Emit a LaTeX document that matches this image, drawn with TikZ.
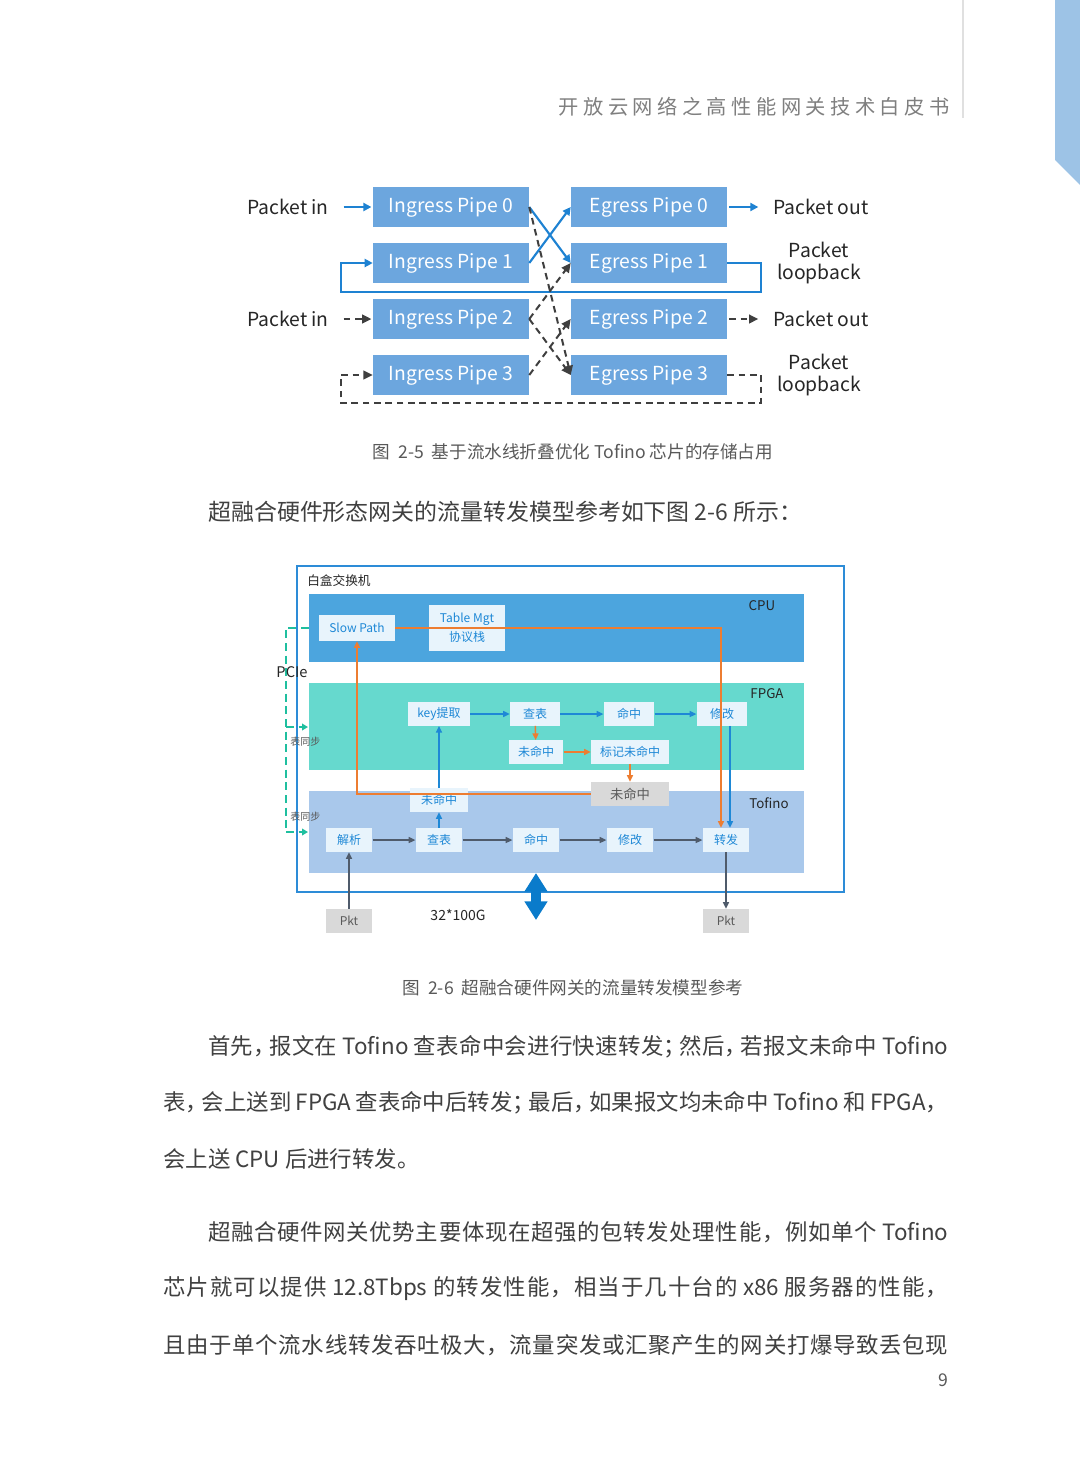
\documentclass[tikz,border=0pt]{standalone}
\usepackage{fontspec}
\setmainfont{Noto Sans CJK SC}
\usetikzlibrary{arrows.meta,positioning}
% stretchable glue between CJK characters, used by the justified lines
\newcount\cjkcode
\cjkcode="4E00
\loop \XeTeXcharclass\cjkcode=1 \advance\cjkcode by 1 \ifnum\cjkcode<"A000 \repeat
\XeTeXcharclass"FF0C=1 \XeTeXcharclass"FF1B=1 \XeTeXcharclass"3002=1 \XeTeXcharclass"FF1A=1
\XeTeXinterchartoks 1 1 = {\hskip 0pt plus 3pt\relax}
\XeTeXinterchartokenstate=1
\newcommand\narrowpunct[1]{\makebox[0.72em][l]{#1}}
\definecolor{pipeblue}{HTML}{6CA6DE}
\definecolor{flowblue}{HTML}{1E82D2}
\definecolor{dashgray}{HTML}{3F3F3F}
\definecolor{labelblack}{HTML}{262626}
\definecolor{hdrgray}{HTML}{7F7F7F}
\definecolor{capgray}{HTML}{595959}
\definecolor{bodygray}{HTML}{404040}
\definecolor{sideblue}{HTML}{9DC3E6}
\definecolor{cpuband}{HTML}{4CA5DE}
\definecolor{fpgaband}{HTML}{66D9CE}
\definecolor{tofband}{HTML}{A9C8EB}
\definecolor{outerblue}{HTML}{2D8CD7}
\definecolor{unitfill}{HTML}{E8F4FC}
\definecolor{unittext}{HTML}{1E88D6}
\definecolor{pathorange}{HTML}{ED7D31}
\definecolor{pcieteal}{HTML}{1FBF9F}
\definecolor{tofarrow}{HTML}{4F5B6B}
\definecolor{busblue}{HTML}{0A7BCB}
\definecolor{pktgray}{HTML}{D9D9D9}
\definecolor{pkttext}{HTML}{595959}
\tikzset{
  pipe/.style={fill=pipeblue,text=white,minimum width=117pt,minimum height=30pt,inner sep=0pt,
    font=\fontsize{14.5}{16}\selectfont},
  lbl/.style={text=labelblack,inner sep=0pt,align=center,font=\fontsize{14.5}{16.5}\selectfont},
  flow blue/.style={draw=flowblue,line width=1.6pt,-{Triangle[length=6pt,width=6pt]}},
  flow dash/.style={draw=dashgray,line width=1.5pt,dash pattern=on 5pt off 3.5pt,
    -{Triangle[length=7pt,width=6.5pt]}},
  unit/.style={fill=unitfill,text=unittext,inner sep=0pt,minimum height=17.5pt,minimum width=35pt,
    font=\fontsize{9}{14}\selectfont},
  pkt/.style={fill=pktgray,text=pkttext,inner sep=0pt,minimum height=18pt,minimum width=35pt,
    font=\fontsize{9}{11}\selectfont},
  chip/.style={text=labelblack,inner sep=0pt,font=\fontsize{10}{12}\selectfont},
  fpga flow/.style={draw=unittext,line width=1.1pt,-{Triangle[length=5pt,width=4.5pt]}},
  miss flow/.style={draw=pathorange,line width=1.1pt,-{Triangle[length=5pt,width=4.5pt]}},
  tof flow/.style={draw=tofarrow,line width=1.1pt,-{Triangle[length=5pt,width=4.5pt]}},
  pcie/.style={draw=pcieteal,line width=1.5pt,dash pattern=on 6pt off 3.5pt},
  sync/.style={text=capgray,inner sep=0pt,font=\fontsize{7.5}{9}\selectfont},
  caption/.style={text=capgray,inner sep=0pt,font=\fontsize{13.2}{15}\selectfont},
  body/.style={text=bodygray,inner sep=0pt,font=\fontsize{16.8}{20}\selectfont}
}
\begin{document}
\begin{tikzpicture}[x=0.75pt,y=-0.75pt]
  \fill[white] (0,0) rectangle (1080,1465);
  \useasboundingbox (0,0) rectangle (1080,1465);

  % page header
  \fill[sideblue] (1055,0) -- (1080,0) -- (1080,185) -- (1055,160) -- cycle;
  \draw[black!12,line width=0.8pt] (963,0) -- (963,118);
  \node[text=hdrgray,inner sep=0pt,anchor=east,font=\fontsize{15.2}{18}\selectfont\addfontfeature{LetterSpace=22}]
    (title) at (950,107) {\XeTeXinterchartokenstate=0 开放云网络之高性能网关技术白皮书};

  % pipeline folding
  \foreach \i in {0,...,3} {
    \node[pipe] (ing\i) at (451,207+56*\i) {Ingress Pipe \i};
    \node[pipe] (eg\i) at (649,207+56*\i) {Egress Pipe \i};
  }
  \node[lbl] (pin0) at (288,207) {Packet in};
  \node[lbl] (pin2) at (288,319) {Packet in};
  \node[lbl,anchor=west] (pout0) at (773,207) {Packet out};
  \node[lbl,anchor=west] (pout2) at (773,319) {Packet out};
  \node[lbl] (lb1) at (819,263) {Packet\\loopback};
  \node[lbl] (lb3) at (819,375) {Packet\\loopback};

  \draw[flow blue,shorten <=11pt,shorten >=1pt] (pin0.east) -- (ing0.west);
  \draw[flow blue,shorten <=1.5pt,shorten >=11pt] (eg0.east) -- (pout0.west);
  \draw[flow blue] (ing0.east) -- (eg1.west);
  \draw[flow blue] (ing1.east) -- (eg0.west);
  \coordinate (loopR) at (761,292);
  \coordinate (loopL) at (341,292);
  \draw[flow blue] (eg1.east) -| (loopR) -- (loopL) |- (ing1.west);

  \draw[flow dash,shorten <=11pt,shorten >=1pt] (pin2.east) -- (ing2.west);
  \draw[flow dash,shorten <=1.5pt,shorten >=11pt] (eg2.east) -- (pout2.west);
  \draw[flow dash] (ing0.east) -- (eg3.west);
  \draw[flow dash] (ing2.east) -- (eg1.west);
  \draw[flow dash] (ing2.east) -- (eg3.west);
  \draw[flow dash] (ing3.east) -- (eg2.west);
  \coordinate (dloopR) at (761,403);
  \coordinate (dloopL) at (341,403);
  \draw[flow dash] (eg3.east) -| (dloopR) -- (dloopL) |- (ing3.west);

  \node[caption] (cap5) at (573,452) {图\ \ 2-5\ \ 基于流水线折叠优化 Tofino 芯片的存储占用};
  \node[body,anchor=west,font=\fontsize{17.2}{20}\selectfont] (intro) at (208,512) {超融合硬件形态网关的流量转发模型参考如下图 2-6 所示：};

  % gateway model
  \draw[outerblue,line width=1.3pt] (297,566) rectangle (844,892);
  \fill[cpuband] (309,594) rectangle (804,662);
  \fill[fpgaband] (309,683) rectangle (804,770);
  \fill[tofband] (309,791) rectangle (804,873);
  \node[chip,anchor=west,font=\fontsize{9.5}{11}\selectfont] (box) at (307,581) {白盒交换机};
  \node[chip] (cpu) at (762,606) {CPU};
  \node[chip] (fpga) at (767,694) {FPGA};
  \node[chip] (tof) at (769,803) {Tofino};

  \node[unit,minimum width=57pt,minimum height=19.5pt] (slow) at (357,628) {Slow Path};
  \node[unit,minimum width=57.5pt,minimum height=35pt,align=center] (tmgt) at (467,628) {Table Mgt\\协议栈};

  \node[unit,minimum width=46.5pt] (key) at (439,714) {key提取};
  \node[unit,minimum width=37.5pt] (lookF) at (535,714) {查表};
  \node[unit,minimum width=38pt] (hitF) at (629,714) {命中};
  \node[unit,minimum width=38pt] (modF) at (722,714) {修改};
  \node[unit,minimum width=41pt] (missF) at (536,752) {未命中};
  \node[unit,minimum width=58.5pt] (mark) at (630,752) {标记未命中};
  \node[pkt,minimum width=58.5pt,minimum height=18pt,font=\fontsize{10}{12}\selectfont] (missC) at (630,794) {未命中};
  \node[unit,minimum width=43.5pt,minimum height=18pt] (missT) at (439,800) {未命中};

  \node[unit,minimum height=18pt] (parse) at (349,840) {解析};
  \node[unit,minimum height=18pt] (lookT) at (439,840) {查表};
  \node[unit,minimum height=18pt] (hitT) at (536,840) {命中};
  \node[unit,minimum height=18pt] (modT) at (630,840) {修改};
  \node[unit,minimum height=18pt] (fwd) at (726,840) {转发};
  \node[pkt] (pktL) at (349,921) {Pkt};
  \node[pkt] (pktR) at (726,921) {Pkt};
  \coordinate (busTop) at (536,873);
  \coordinate (busBot) at (536,920);
  \draw[busblue,line width=7.5pt,{Triangle[length=14pt,width=16.5pt]}-{Triangle[length=14pt,width=16.5pt]}]
    (busTop) -- (busBot);
  \node[chip,font=\fontsize{10.5}{12}\selectfont] (speed) at (458,915) {32*100G};

  \draw[tof flow] (parse) -- (lookT);
  \draw[tof flow] (lookT) -- (hitT);
  \draw[tof flow] (hitT) -- (modT);
  \draw[tof flow] (modT) -- (fwd);
  \draw[tof flow] (pktL) -- (parse);
  \draw[tof flow] (fwd) -- (pktR);

  \draw[fpga flow] (lookT) -- (missT);
  \draw[fpga flow] (missT) -- (key);
  \draw[fpga flow] (key) -- (lookF);
  \draw[fpga flow] (lookF) -- (hitF);
  \draw[fpga flow] (hitF) -- (modF);
  \draw[fpga flow] ([xshift=6pt]modF.south) -- ([xshift=6pt]modF.south |- fwd.north);

  \draw[miss flow] (lookF) -- (missF);
  \draw[miss flow] (missF) -- (mark);
  \draw[miss flow] (mark) -- (missC);
  \coordinate (upL) at (357,794);
  \draw[miss flow] (missC.west) -- (upL) -- (slow.south);
  \coordinate (downR) at (721,628);
  \draw[miss flow] (slow.east) -- (downR) -- (downR |- fwd.north);

  % PCIe table sync
  \coordinate (cpuL) at (309,628);
  \coordinate (pcTop) at (286,628);
  \coordinate (pcBot) at (286,832);
  \coordinate (fpgaIn) at (308,727);
  \coordinate (tofIn) at (308,832);
  \draw[pcie] (cpuL) -- (pcTop) -- (pcBot);
  \draw[pcie,-{Triangle[length=4.5pt,width=5pt]}] (pcTop |- fpgaIn) -- (fpgaIn);
  \draw[pcie,-{Triangle[length=4.5pt,width=5pt]}] (pcBot) -- (tofIn);
  \node[chip,font=\fontsize{11}{13}\selectfont] (pcie) at (292,672) {PCIe};
  \node[sync,anchor=west] (sync1) at (290,742) {表同步};
  \node[sync,anchor=west] (sync2) at (290,817) {表同步};

  \node[caption] (cap6) at (573,988) {图\ \ 2-6\ \ 超融合硬件网关的流量转发模型参考};

  % body text
  \node[body,anchor=west] (p1a) at (208,1047) {\makebox[555pt][s]{首先\narrowpunct{，}报文在 Tofino 查表命中会进行快速转发\narrowpunct{；}然后\narrowpunct{，}若报文未命中 Tofino}};
  \node[body,anchor=west] (p1b) at (163,1103) {\makebox[588.75pt][s]{表\narrowpunct{，}会上送到 FPGA 查表命中后转发\narrowpunct{；}最后\narrowpunct{，}如果报文均未命中 Tofino 和 FPGA，}};
  \node[body,anchor=west] (p1c) at (163,1159) {会上送 CPU 后进行转发。};
  \node[body,anchor=west] (p2a) at (208,1232) {\makebox[555pt][s]{超融合硬件网关优势主要体现在超强的包转发处理性能，例如单个 Tofino}};
  \node[body,anchor=west] (p2b) at (163,1289) {\makebox[588.75pt][s]{芯片就可以提供 12.8Tbps 的转发性能，相当于几十台的 x86 服务器的性能，}};
  \node[body,anchor=west] (p2c) at (163,1345) {\makebox[588.75pt][s]{且由于单个流水线转发吞吐极大，流量突发或汇聚产生的网关打爆导致丢包现}};
  \node[caption,anchor=east] (page) at (949,1380) {9};
\end{tikzpicture}
\end{document}
